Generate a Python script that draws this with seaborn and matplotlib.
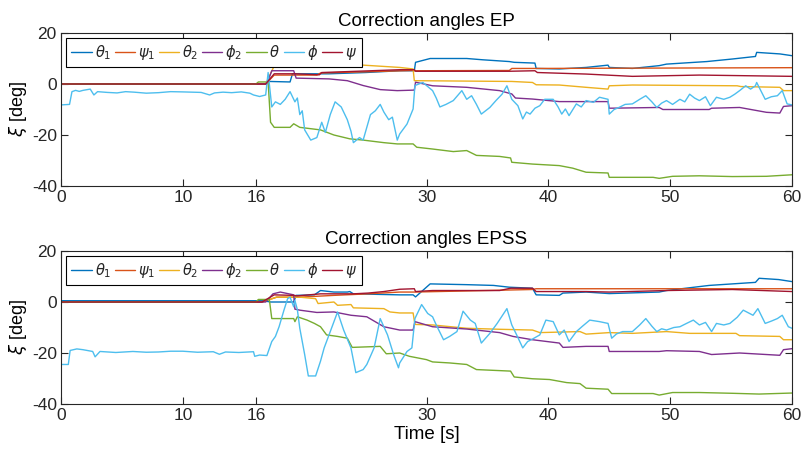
import numpy as np
import pandas as pd
import matplotlib
matplotlib.use("Agg")
import matplotlib.pyplot as plt
import seaborn as sns

# ==========================================================
# DATA  (time [s], angle [deg])
# ==========================================================

series_names = [r"$\theta_1$", r"$\psi_1$", r"$\theta_2$", r"$\phi_2$",
                r"$\theta$", r"$\phi$", r"$\psi$"]

series_colors = ["#0072BD", "#D95319", "#EDB120", "#7E2F8E",
                 "#77AC30", "#4DBEEE", "#A2142F"]

x_ticks = [0, 10, 16, 30, 40, 50, 60]
y_ticks = [-40, -20, 0, 20]

# ---------------- EP ----------------
ep_theta1 = [(0, 0), (16.8, 0), (17.1, 1.0), (18.8, 0.8), (19.0, 4.0), (22, 4.0), (25, 4.5),
             (27.8, 5.2), (29.0, 5.2), (29.1, 8.5), (30.3, 10.0), (33.3, 10.0), (34.6, 9.5),
             (36.8, 8.8), (37.2, 8.5), (38.9, 8.2), (39.0, 6.1), (40.9, 5.9), (43.1, 6.5),
             (44.9, 7.4), (45.0, 6.5), (46.9, 6.1), (49.1, 7.2), (49.7, 7.8), (53.0, 8.8),
             (55.1, 9.8), (57.0, 10.8), (57.1, 12.4), (59.0, 11.8), (60, 11.1)]

ep_psi1 = [(0, 0), (16.8, 0), (17.5, 3.5), (21.0, 3.5), (21.3, 4.3), (28.9, 5.3), (29.1, 5.2),
           (36.8, 5.3), (37.0, 6.1), (39.0, 6.1), (60, 6.4)]

ep_theta2 = [(0, 0), (16.8, 0), (17.5, 7.1), (18.3, 7.8), (19.5, 7.4), (24.8, 7.4), (27.8, 6.5),
             (28.9, 5.9), (29.0, 1.3), (37.0, 1.0), (38.7, 0.6), (39.0, -0.3), (40.9, -0.4),
             (43.1, -1.3), (44.9, -2.0), (45.0, -0.7), (46.9, -0.4), (55.5, -0.7), (55.8, -1.0),
             (59.0, -1.3), (59.3, -2.6), (60, -2.6)]

ep_phi2 = [(0, 0), (16.9, 0), (17.3, 5.2), (19.1, 5.2), (19.3, 2.3), (22.0, 2.0), (23.5, 1.3),
           (24.8, -0.6), (26.2, -2.2), (27.6, -2.6), (29.0, -2.4), (29.1, 0.7), (30.5, -0.7),
           (33.3, -1.3), (36.0, -2.6), (37.0, -3.9), (37.3, -5.5), (38.7, -5.9), (40.9, -6.9),
           (44.9, -6.9), (45.0, -9.5), (49.1, -9.2), (49.4, -10.0), (53.2, -10.0), (53.4, -9.5),
           (55.7, -9.2), (57.9, -11.1), (59.0, -11.4), (59.3, -8.8), (60, -8.5)]

ep_theta = [(0, 0), (16.0, 0), (16.2, 0.8), (17.0, 0.8), (17.2, -15.0), (17.5, -17.0),
            (18.8, -17.0), (19.1, -15.6), (19.6, -17.0), (21.3, -18.0), (22.4, -20.0),
            (23.7, -21.5), (24.8, -22.0), (26.5, -23.0), (27.6, -23.5), (28.9, -23.5),
            (29.2, -24.8), (30.5, -25.5), (32.2, -26.5), (33.3, -26.1), (34.1, -28.0),
            (36.0, -28.4), (36.9, -29.0), (37.0, -30.7), (38.7, -31.4), (40.9, -32.0),
            (42.0, -33.0), (43.1, -34.6), (44.9, -34.9), (45.0, -36.6), (48.6, -36.6),
            (49.1, -37.0), (50.2, -36.2), (52.4, -36.0), (55.1, -36.3), (57.9, -36.2), (60, -35.6)]

ep_phi = [(0, -8.2), (0.7, -8.0), (0.9, -3.0), (1.2, -2.5), (1.5, -2.9), (1.8, -2.5), (2.4, -2.0),
          (2.7, -4.3), (3.0, -3.0), (3.8, -3.3), (4.6, -3.5), (5.3, -3.0), (6.0, -3.2),
          (7.0, -3.6), (8.0, -3.4), (9.0, -3.0), (10.0, -3.1), (11.5, -3.3), (12.2, -4.3),
          (12.6, -3.5), (13.3, -3.2), (14.0, -3.4), (14.8, -3.1), (15.5, -3.6), (15.8, -4.3),
          (16.3, -4.9), (16.8, -4.3), (17.0, 4.5), (17.3, -9.0), (17.6, -7.0), (18.0, -8.0),
          (18.4, -6.0), (18.8, -3.0), (19.2, -7.0), (19.4, -5.5), (19.6, -12.0), (19.8, -10.5),
          (20.0, -18.0), (20.5, -22.0), (21.0, -21.0), (21.4, -15.0), (21.7, -19.0),
          (22.1, -12.0), (22.5, -7.0), (23.0, -9.0), (23.5, -14.0), (23.8, -18.5), (24.0, -23.0),
          (24.5, -21.0), (24.8, -22.0), (25.1, -17.0), (25.4, -12.0), (25.8, -10.5), (26.2, -8.0),
          (26.5, -11.0), (26.9, -14.0), (27.2, -13.0), (27.6, -22.0), (27.8, -19.6),
          (28.4, -15.7), (28.9, -9.8), (29.05, -0.6), (29.7, 0.6), (30.0, -0.6), (30.5, -2.6),
          (30.8, -5.5), (31.1, -9.0), (31.6, -8.0), (32.2, -6.5), (32.9, -2.6), (33.3, -6.0),
          (33.7, -4.6), (34.1, -8.0), (34.5, -11.8), (35.2, -9.2), (35.7, -6.5), (36.2, -4.0),
          (36.6, -0.7), (37.0, -6.0), (37.5, -8.5), (37.9, -13.7), (38.2, -11.0), (38.5, -11.8),
          (38.9, -9.5), (39.3, -8.5), (39.7, -6.0), (40.4, -6.0), (40.8, -9.0), (41.1, -11.8),
          (41.4, -9.8), (41.7, -12.4), (42.3, -7.8), (42.7, -9.0), (43.1, -6.5), (43.7, -7.2),
          (44.2, -5.2), (44.9, -6.0), (45.0, -11.8), (45.4, -10.0), (45.8, -9.2), (46.3, -8.0),
          (46.9, -7.8), (47.5, -6.0), (48.0, -4.6), (48.5, -7.0), (48.9, -9.2), (49.3, -7.5),
          (49.7, -6.5), (50.2, -8.0), (50.8, -6.0), (51.2, -7.0), (51.6, -4.0), (52.0, -5.5),
          (52.4, -6.5), (52.9, -5.0), (53.3, -8.5), (53.8, -5.2), (54.4, -6.0), (54.9, -5.2),
          (55.3, -4.0), (55.7, -2.6), (56.2, -0.7), (56.6, -2.0), (57.0, -0.7), (57.1, 0.6),
          (57.8, -6.0), (58.3, -5.0), (58.8, -4.6), (59.2, -2.6), (59.6, -7.8), (60, -8.2)]

ep_psi = [(0, 0), (16.8, 0), (17.5, 4.0), (19.2, 4.0), (21.2, 3.6), (21.4, 4.5), (27.8, 5.6),
          (29.0, 5.6), (29.1, 5.0), (36.8, 5.0), (38.9, 5.2), (39.1, 4.5), (43.1, 3.9),
          (46.9, 3.0), (52.4, 3.5), (60, 3.0)]

# ---------------- EPSS ----------------
epss_theta1 = [(0, 0.5), (16.6, 0.5), (17.2, 0.0), (19.1, 0.0), (19.3, 2.6), (20.8, 2.8),
               (21.3, 4.5), (22.4, 3.9), (23.5, 3.9), (23.7, 4.1), (24.0, 3.2), (27.8, 2.8),
               (28.9, 2.8), (29.1, 2.0), (30.3, 7.1), (33.3, 6.8), (35.5, 6.5), (36.8, 5.8),
               (38.7, 5.4), (39.0, 2.8), (40.9, 2.6), (41.2, 3.5), (43.1, 3.9), (45.0, 3.3),
               (49.1, 3.9), (49.7, 4.5), (53.2, 6.5), (55.1, 7.1), (57.0, 7.7), (57.3, 9.3),
               (58.9, 8.8), (60, 8.0)]

epss_psi1 = [(0, 0), (16.5, 0), (17.7, 1.9), (19.6, 1.9), (22.4, 2.6), (25.2, 3.2), (27.8, 3.9),
             (29.0, 3.9), (38.7, 4.9), (39.0, 5.2), (60, 5.2)]

epss_theta2 = [(0, 0), (16.5, 0), (17.7, 1.9), (19.6, 1.9), (20.9, 1.3), (21.1, -0.6),
               (22.4, 0.0), (22.7, -1.3), (23.8, -1.0), (24.0, -2.3), (26.5, -2.6), (27.0, -3.9),
               (27.8, -4.3), (28.9, -4.3), (29.05, -8.8), (30.5, -9.0), (33.3, -10.3),
               (36.0, -10.7), (38.7, -11.0), (39.3, -12.0), (42.6, -11.6), (43.1, -12.6),
               (45.0, -12.0), (46.9, -12.3), (49.7, -11.6), (51.6, -12.3), (55.4, -12.3),
               (55.7, -13.2), (59.0, -13.5), (59.3, -14.8), (60, -14.8)]

epss_phi2 = [(0, 0), (16.8, 0), (17.4, 3.2), (18.0, 3.9), (19.1, 2.8), (19.2, -2.8), (19.6, -3.2),
             (21.0, -4.1), (22.4, -3.9), (23.8, -5.2), (25.1, -5.8), (26.5, -9.7), (27.8, -11.0),
             (28.9, -11.0), (29.05, -7.7), (30.5, -9.7), (33.3, -10.6), (36.0, -12.0),
             (37.1, -13.5), (38.7, -14.8), (40.9, -16.1), (41.2, -17.8), (43.1, -17.4),
             (44.9, -17.4), (45.0, -19.4), (49.1, -19.4), (49.7, -19.1), (52.4, -19.4),
             (53.4, -20.6), (55.7, -20.0), (57.9, -20.6), (59.0, -20.9), (59.3, -18.7), (60, -18.3)]

epss_theta = [(0, 0), (16.0, 0), (16.2, 1.0), (17.1, 1.0), (17.3, -6.5), (19.1, -6.5),
              (19.2, -7.7), (19.4, -5.8), (20.2, -7.1), (20.8, -8.4), (21.3, -9.7), (21.8, -12.9),
              (22.7, -13.5), (23.5, -14.2), (23.9, -17.8), (26.2, -17.4), (26.7, -20.3),
              (27.8, -20.0), (28.6, -21.3), (30.0, -22.6), (30.5, -23.5), (31.9, -23.9),
              (33.3, -24.5), (34.1, -26.5), (36.9, -27.1), (37.2, -29.4), (38.7, -30.1),
              (40.1, -30.4), (41.5, -31.6), (42.6, -32.0), (43.1, -33.8), (44.9, -34.2),
              (45.2, -35.9), (48.6, -35.9), (49.1, -36.5), (50.2, -35.5), (52.4, -35.5),
              (55.1, -35.8), (57.3, -36.1), (60, -35.7)]

epss_phi = [(0, -24.5), (0.6, -24.5), (0.75, -19.0), (1.3, -18.4), (1.8, -18.7), (2.6, -19.4),
            (2.8, -21.5), (3.2, -19.4), (4.5, -19.8), (5.9, -19.4), (7.0, -19.7), (8.0, -19.6),
            (9.0, -19.3), (10.0, -19.3), (11.2, -19.7), (12.5, -19.5), (13.0, -20.5),
            (13.5, -19.6), (14.6, -19.8), (15.8, -19.5), (15.9, -21.3), (16.3, -20.8),
            (16.9, -21.0), (17.3, -15.5), (17.6, -13.5), (17.9, -9.7), (18.3, -3.2), (18.6, 1.3),
            (18.8, 1.9), (19.1, -1.9), (19.2, 0.6), (19.4, -3.0), (19.6, -10.3), (20.0, -20.6),
            (20.3, -29.0), (20.9, -29.0), (21.3, -23.2), (21.6, -18.0), (22.0, -12.9),
            (22.7, -3.9), (23.2, -11.0), (23.8, -18.0), (24.2, -27.7), (24.8, -26.5),
            (25.1, -24.5), (25.7, -18.0), (26.2, -6.5), (26.8, -12.9), (27.3, -20.6),
            (27.7, -25.8), (27.8, -23.9), (28.4, -19.4), (28.8, -18.0), (29.05, -6.5),
            (29.6, -1.0), (30.1, -4.5), (30.5, -5.8), (30.8, -9.0), (31.4, -14.8), (31.9, -13.5),
            (32.5, -11.6), (33.0, -3.6), (33.6, -7.1), (34.0, -8.4), (34.5, -16.1),
            (35.2, -12.3), (35.8, -8.4), (36.6, -2.6), (37.0, -9.0), (37.4, -12.9),
            (37.9, -18.0), (38.3, -15.5), (38.6, -14.8), (39.3, -12.9), (39.8, -7.1),
            (40.4, -7.7), (40.9, -12.9), (41.3, -11.0), (41.7, -15.5), (42.3, -11.6),
            (42.8, -9.5), (43.4, -7.1), (44.2, -7.7), (44.9, -8.4), (45.2, -14.2), (45.6, -12.5),
            (46.1, -11.6), (46.9, -11.6), (47.5, -9.0), (48.0, -6.5), (48.5, -9.5),
            (48.9, -11.6), (49.3, -10.5), (49.7, -11.0), (50.3, -10.0), (50.8, -9.7),
            (51.3, -8.5), (51.9, -7.1), (52.4, -9.0), (52.9, -8.0), (53.4, -11.6), (53.8, -8.4),
            (54.4, -9.0), (54.9, -8.4), (55.5, -6.0), (56.0, -3.2), (56.8, -5.2), (57.2, -2.6),
            (57.8, -8.4), (58.3, -7.5), (58.8, -6.5), (59.2, -5.2), (59.7, -9.7), (60, -10.3)]

epss_psi = [(0, 0), (16.5, 0), (17.5, 2.8), (19.1, 2.6), (19.4, 2.4), (21.3, 3.2), (24.0, 3.2),
            (25.2, 3.5), (26.5, 4.1), (27.8, 5.0), (29.0, 5.2), (29.1, 4.1), (30.5, 4.5),
            (36.0, 4.5), (36.9, 5.4), (38.7, 5.4), (39.0, 4.1), (43.1, 4.1), (45.0, 3.9),
            (49.7, 4.5), (55.1, 4.9), (60, 4.1)]

ep_series = [ep_theta1, ep_psi1, ep_theta2, ep_phi2, ep_theta, ep_phi, ep_psi]
epss_series = [epss_theta1, epss_psi1, epss_theta2, epss_phi2, epss_theta, epss_phi, epss_psi]

panels = [("Correction angles EP", ep_series),
          ("Correction angles EPSS", epss_series)]

# ==========================================================
# STYLE
# ==========================================================

sns.set_style("ticks")
plt.rcParams["font.family"] = ["Liberation Sans", "DejaVu Sans"]
plt.rcParams["axes.unicode_minus"] = False
plt.rcParams["mathtext.fontset"] = "dejavusans"

dark = "#262626"

fig = plt.figure(figsize=(8.02, 4.54), dpi=100)

axes = [fig.add_axes([61 / 802, 1 - 186 / 454, 731 / 802, 153 / 454]),
        fig.add_axes([61 / 802, 1 - 404 / 454, 731 / 802, 153 / 454])]

# ==========================================================
# PLOT
# ==========================================================

for ax, (title, series) in zip(axes, panels):

    for name, color, pts in zip(series_names, series_colors, series):

        df = pd.DataFrame(pts, columns=["t", "v"])

        sns.lineplot(
            data=df,
            x="t",
            y="v",
            ax=ax,
            color=color,
            linewidth=1.0,
            estimator=None,
            sort=False,
            label=name
        )

    ax.set_xlim(0, 60)
    ax.set_ylim(-40, 20)
    ax.set_xticks(x_ticks)
    ax.set_yticks(y_ticks)
    ax.set_xticklabels([str(v) for v in x_ticks])
    ax.set_yticklabels([str(v) for v in y_ticks])

    ax.tick_params(direction="in", top=True, right=True, length=5,
                   width=0.8, colors=dark, labelsize=12.5, pad=3)

    for sp in ax.spines.values():
        sp.set_visible(True)
        sp.set_color(dark)
        sp.set_linewidth(0.8)

    ax.set_title(title, fontsize=13.5, color="black", pad=5)
    ax.set_ylabel(r"$\xi$ [deg]", fontsize=13, color="black", labelpad=2)
    ax.set_xlabel("")

    leg = ax.legend(
        loc="upper left",
        ncol=7,
        fontsize=10.5,
        frameon=True,
        fancybox=False,
        framealpha=1,
        edgecolor="black",
        handlelength=1.4,
        handletextpad=0.2,
        columnspacing=0.25,
        borderpad=0.35,
        borderaxespad=0.35
    )
    leg.get_frame().set_linewidth(0.8)

axes[1].set_xlabel("Time [s]", fontsize=13.5, color="black", labelpad=2)

fig.savefig("out.png", dpi=100)
